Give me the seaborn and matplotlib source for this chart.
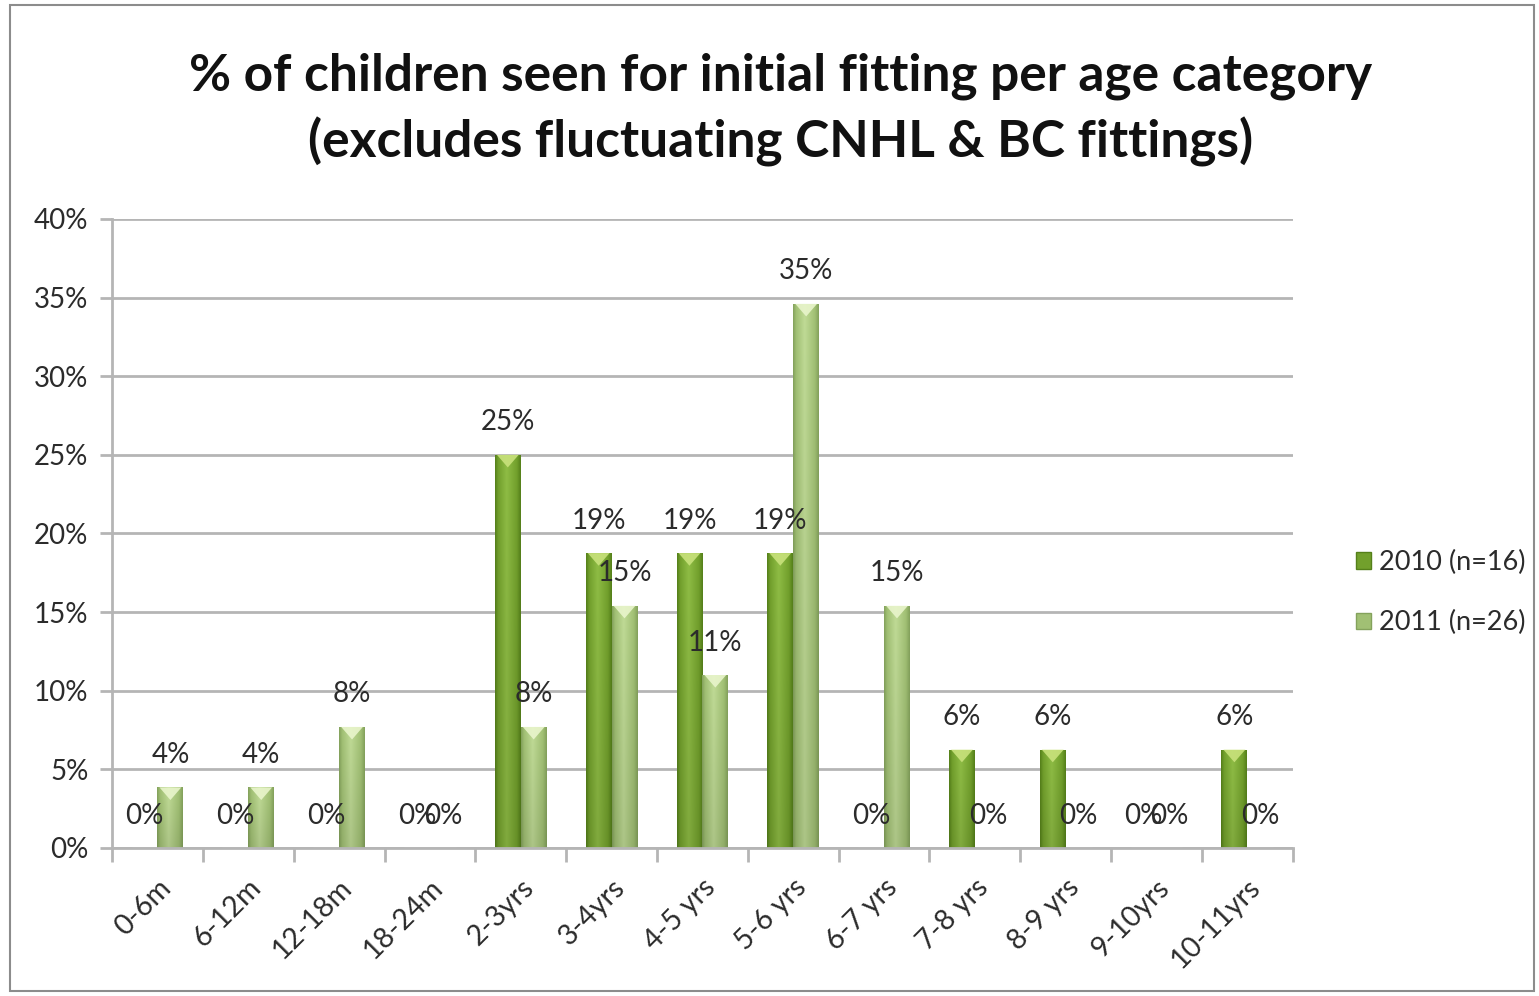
import numpy as np
import pandas as pd
import matplotlib
matplotlib.use("Agg")
import matplotlib.pyplot as plt
import seaborn as sns
from matplotlib.colors import to_rgb
from matplotlib.patches import Patch, Polygon, Rectangle

# Age groups and share (%) of children seen for initial fitting
age_groups = ["0-6m", "6-12m", "12-18m", "18-24m", "2-3yrs", "3-4yrs", "4-5 yrs",
              "5-6 yrs", "6-7 yrs", "7-8 yrs", "8-9 yrs", "9-10yrs", "10-11yrs"]
pct_2010 = [0, 0, 0, 0, 25, 18.75, 18.75, 18.75, 0, 6.25, 6.25, 0, 6.25]
pct_2011 = [3.85, 3.85, 7.7, 0, 7.7, 15.4, 11.0, 34.6, 15.4, 0, 0, 0, 0]
series_names = ["2010 (n=16)", "2011 (n=26)"]
y_ticks = [0, 5, 10, 15, 20, 25, 30, 35, 40]

title = ("% of children seen for initial fitting per age category\n"
         "(excludes fluctuating CNHL & BC fittings)")

df = pd.DataFrame({
    "age": age_groups * 2,
    "series": [series_names[0]] * len(age_groups) + [series_names[1]] * len(age_groups),
    "pct": pct_2010 + pct_2011,
})

sns.set_theme(style="white")
plt.rcParams["font.family"] = ["Lato", "DejaVu Sans"]

base_colors = {series_names[0]: "#78a630", series_names[1]: "#a6c67a"}
# (dark edge, bright centre, mid tone, top highlight)
shade = {
    series_names[0]: ("#55801a", "#8fbd45", "#72a02c", "#c9e27c"),
    series_names[1]: ("#84a25c", "#c0db96", "#a1c074", "#e9f5cc"),
}
text_c = "#2b2b2b"
fs = 20

fig = plt.figure(figsize=(15.39, 9.96), dpi=100)
ax = fig.add_axes([0.0728, 0.1486, 0.7672, 0.6316])

sns.barplot(data=df, x="age", y="pct", hue="series", order=age_groups,
            hue_order=series_names, palette=base_colors, width=0.57,
            saturation=1, ax=ax, legend=False, errorbar=None)


def bar_fill(dark, light, mid, n=64):
    """Horizontal light/dark sheen across a bar, slightly darker at the base."""
    d, l, m = (np.array(to_rgb(c)) for c in (dark, light, mid))
    xs = np.linspace(0, 1, n)
    stops = [0.0, 0.12, 0.45, 0.85, 1.0]
    cols = [d, m, l, m, d]
    row = np.stack([np.interp(xs, stops, [c[k] for c in cols]) for k in range(3)], axis=1)
    ys = np.linspace(0.9, 1.0, 40)[:, None, None]
    return np.clip(row[None, :, :] * ys, 0, 1)


for container, name in zip(ax.containers, series_names):
    dark, light, mid, top = shade[name]
    img = bar_fill(dark, light, mid)
    for bar in container.patches:
        h = bar.get_height()
        if h <= 0:
            continue
        x0, w = bar.get_x(), bar.get_width()
        bar.set_edgecolor("none")
        im = ax.imshow(img, extent=(x0, x0 + w, 0, h), origin="lower",
                       aspect="auto", zorder=bar.get_zorder() + 0.1,
                       interpolation="bilinear")
        im.set_clip_path(bar)
        tip = Polygon([(x0 + w * 0.08, h), (x0 + w * 0.92, h), (x0 + w / 2, h - 0.8)],
                      closed=True, facecolor=top, edgecolor="none",
                      alpha=0.9, zorder=bar.get_zorder() + 0.2)
        ax.add_patch(tip)
    vals = [b.get_height() for b in container.patches]
    ax.bar_label(container, labels=[f"{v:.0f}%" for v in vals], padding=14,
                 fontsize=fs, color=text_c)

ax.set_ylim(0, 40)
ax.set_xlim(-0.5, len(age_groups) - 0.5)

# axes styling
grid_c = "#b5b5b5"
ax.set_yticks(y_ticks)
ax.set_yticklabels([f"{t}%" for t in y_ticks], fontsize=fs, color=text_c)
ax.yaxis.grid(True, color=grid_c, linewidth=2)
ax.set_axisbelow(True)
ax.tick_params(axis="y", length=9, width=2, color=grid_c, pad=8, left=True)

ax.set_xticks(range(len(age_groups)))
ax.set_xticklabels(age_groups, rotation=45, ha="right", rotation_mode="anchor",
                   fontsize=20.5, color=text_c)
ax.set_xticks(np.arange(-0.5, len(age_groups)), minor=True)
ax.tick_params(axis="x", which="major", length=0, pad=19)
ax.tick_params(axis="x", which="minor", length=10, width=2, color=grid_c, bottom=True)
ax.set_xlabel("")
ax.set_ylabel("")

for side in ("top", "right"):
    ax.spines[side].set_visible(False)
for side in ("left", "bottom"):
    ax.spines[side].set_color(grid_c)
    ax.spines[side].set_linewidth(2)

# legend
handles = [Patch(facecolor=shade[n][2], edgecolor=shade[n][0], linewidth=1) for n in series_names]
fig.legend(handles, series_names, loc="center left", bbox_to_anchor=(0.865, 0.405),
           frameon=False, fontsize=19.5, handlelength=0.55, handleheight=0.55,
           handletextpad=0.3, labelspacing=1.3, labelcolor=text_c)

fig.text(0.507, 0.89, title, ha="center", va="center", fontsize=37,
         fontweight="bold", color="#111111", linespacing=1.42)

# chart frame
fig.patches.append(Rectangle((0.0065, 0.005), 0.99, 0.99, transform=fig.transFigure,
                             fill=False, edgecolor="#8c8c8c", linewidth=1.5))

fig.savefig("out.png", dpi=100)
